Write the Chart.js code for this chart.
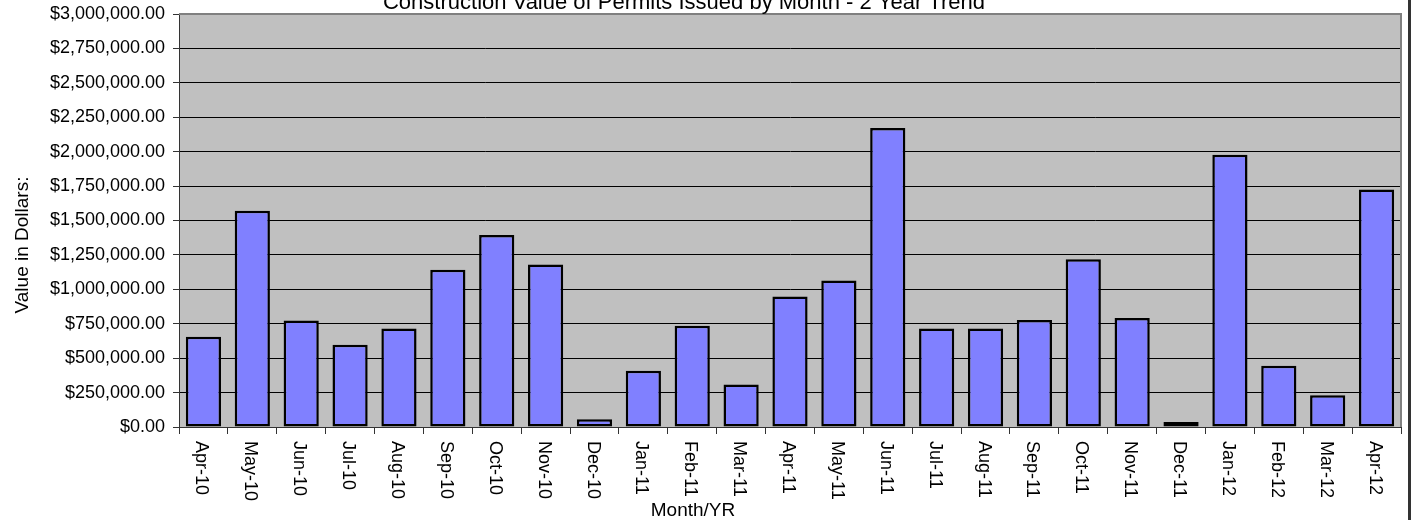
<!DOCTYPE html>
<html>
<head>
<meta charset="utf-8">
<title>Construction Value of Permits Issued by Month</title>
<script src="https://cdn.jsdelivr.net/npm/chart.js@4.4.1/dist/chart.umd.min.js"></script>
<style>
    html, body { margin: 0; padding: 0; background: #fff; overflow: hidden; }
    .container { width: 1408px; height: 520px; border-right: 3px solid #333; }
</style>
</head>
<body>
<div class="container">
    <canvas id="permitChart" width="1408" height="520"></canvas>
</div>
<script>
const chartTitle = 'Construction Value of Permits Issued by Month - 2 Year Trend';
const xTitle = 'Month/YR';
const yTitle = 'Value in Dollars:';

const months = ['Apr-10', 'May-10', 'Jun-10', 'Jul-10', 'Aug-10', 'Sep-10', 'Oct-10', 'Nov-10', 'Dec-10',
    'Jan-11', 'Feb-11', 'Mar-11', 'Apr-11', 'May-11', 'Jun-11', 'Jul-11', 'Aug-11', 'Sep-11', 'Oct-11',
    'Nov-11', 'Dec-11', 'Jan-12', 'Feb-12', 'Mar-12', 'Apr-12'];
const permitValues = [655000, 1570000, 773000, 598000, 715000, 1142000, 1394000, 1181000, 56000,
    408000, 736000, 308000, 948000, 1064000, 2172000, 715000, 715000, 778000, 1219000,
    792000, 36000, 1977000, 445000, 231000, 1725000];

const yMin = 0;
const yMax = 3000000;
const yStep = 250000;

const fontFamily = '"Liberation Sans", Arial, sans-serif';

function formatDollars(value) {
    return '$' + Number(value).toLocaleString('en-US', { minimumFractionDigits: 2, maximumFractionDigits: 2 });
}

// plot background + frame, rotated month labels and titles
const excelLook = {
    id: 'excelLook',
    beforeDraw(chart) {
        const { ctx, chartArea } = chart;
        ctx.save();
        ctx.fillStyle = '#C0C0C0';
        ctx.fillRect(chartArea.left, chartArea.top, chartArea.right - chartArea.left, chartArea.bottom - chartArea.top);
        ctx.restore();
    },
    afterDraw(chart) {
        const { ctx, chartArea } = chart;
        const xScale = chart.scales.x;

        ctx.save();
        ctx.strokeStyle = '#808080';
        ctx.lineWidth = 2;
        ctx.beginPath();
        ctx.moveTo(chartArea.left, chartArea.top);
        ctx.lineTo(chartArea.right, chartArea.top);
        ctx.lineTo(chartArea.right, chartArea.bottom);
        ctx.stroke();

        ctx.fillStyle = '#000';
        ctx.font = '18px ' + fontFamily;
        ctx.textAlign = 'left';
        ctx.textBaseline = 'middle';
        months.forEach((label, i) => {
            ctx.save();
            ctx.translate(xScale.getPixelForValue(i) - 2, xScale.top + 14);
            ctx.rotate(Math.PI / 2);
            ctx.fillText(label, 0, 0);
            ctx.restore();
        });

        ctx.textAlign = 'center';
        ctx.textBaseline = 'alphabetic';
        ctx.font = '22px ' + fontFamily;
        ctx.fillText(chartTitle, 684, 9);

        ctx.font = '19px ' + fontFamily;
        ctx.fillText(xTitle, 693, 516);

        ctx.save();
        ctx.translate(28, 245);
        ctx.rotate(-Math.PI / 2);
        ctx.fillText(yTitle, 0, 0);
        ctx.restore();
        ctx.restore();
    }
};

document.addEventListener('DOMContentLoaded', () => {
    const ctx = document.getElementById('permitChart').getContext('2d');
    new Chart(ctx, {
        type: 'bar',
        data: {
            labels: months,
            datasets: [{
                label: 'Construction Value',
                data: permitValues,
                backgroundColor: '#8080FF',
                borderColor: '#000',
                borderWidth: 2.5,
                borderSkipped: false,
                barPercentage: 0.72,
                categoryPercentage: 1
            }]
        },
        options: {
            responsive: false,
            animation: false,
            layout: {
                padding: { top: 14, right: 7, bottom: 0, left: 0 }
            },
            plugins: {
                legend: { display: false },
                title: { display: false },
                tooltip: { enabled: false }
            },
            scales: {
                x: {
                    offset: true,
                    grid: {
                        offset: true,
                        drawOnChartArea: false,
                        drawTicks: true,
                        tickLength: 7,
                        tickColor: '#333'
                    },
                    border: { display: true, color: '#333', width: 1 },
                    ticks: { display: false },
                    afterFit(scale) { scale.height = 93; }
                },
                y: {
                    min: yMin,
                    max: yMax,
                    ticks: {
                        stepSize: yStep,
                        color: '#000',
                        padding: 8,
                        font: { family: fontFamily, size: 18 },
                        callback: value => formatDollars(value)
                    },
                    grid: {
                        color: '#000',
                        lineWidth: 1,
                        tickLength: 6,
                        tickColor: '#333'
                    },
                    border: { display: true, color: '#333', width: 1 },
                    afterFit(scale) {
                        scale.width = 179;
                        scale.paddingTop = 0;
                        scale.paddingBottom = 0;
                    }
                }
            }
        },
        plugins: [excelLook]
    });
});
</script>
</body>
</html>
